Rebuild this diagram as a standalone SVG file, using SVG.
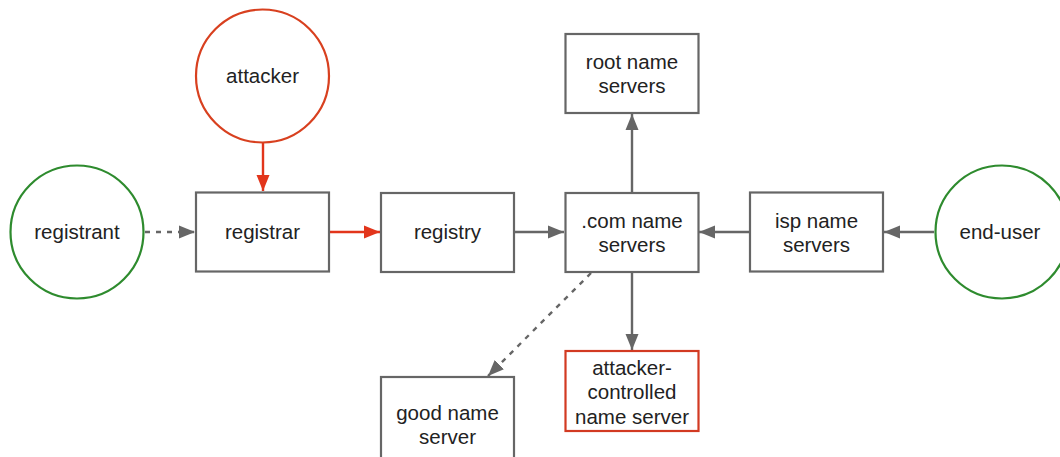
<svg xmlns="http://www.w3.org/2000/svg" width="1060" height="457" viewBox="0 0 1060 457">
  <style>
    .box { fill: #ffffff; stroke: #666666; stroke-width: 2.2; }
    .box-red { fill: #ffffff; stroke: #d23a22; stroke-width: 2.2; }
    .circ-green { fill: #ffffff; stroke: #2e8b2e; stroke-width: 2.2; }
    .circ-red { fill: #ffffff; stroke: #d8401f; stroke-width: 2.2; }
    .label { font-family: "Liberation Sans", Arial, Helvetica, sans-serif; font-size: 20.5px; fill: #222222; text-anchor: middle; }
    .edge { fill: none; stroke: #666666; stroke-width: 2.4; }
    .edge-red { fill: none; stroke: #e2351b; stroke-width: 2.4; }
    .dashed { stroke-dasharray: 5 6; }
  </style>
  <defs>
    <marker id="arrow" markerUnits="userSpaceOnUse" markerWidth="17" markerHeight="14" refX="16" refY="7" orient="auto">
      <path d="M0,0.5 L16,7 L0,13.5 z" fill="#666666"/>
    </marker>
    <marker id="arrow-red" markerUnits="userSpaceOnUse" markerWidth="17" markerHeight="14" refX="16" refY="7" orient="auto">
      <path d="M0,0.5 L16,7 L0,13.5 z" fill="#e2351b"/>
    </marker>
  </defs>

  <rect width="1060" height="457" fill="#ffffff"/>

  <!-- connectors -->
  <g id="connectors">
    <line class="edge dashed" x1="145" y1="232" x2="195" y2="232" marker-end="url(#arrow)"/>
    <line class="edge-red" x1="263" y1="143" x2="263" y2="191" marker-end="url(#arrow-red)"/>
    <line class="edge-red" x1="330" y1="232" x2="380" y2="232" marker-end="url(#arrow-red)"/>
    <line class="edge" x1="515" y1="232" x2="564" y2="232" marker-end="url(#arrow)"/>
    <line class="edge" x1="749" y1="232" x2="699" y2="232" marker-end="url(#arrow)"/>
    <line class="edge" x1="934" y1="232" x2="884" y2="232" marker-end="url(#arrow)"/>
    <line class="edge" x1="632" y1="192" x2="632" y2="114" marker-end="url(#arrow)"/>
    <line class="edge" x1="632" y1="273" x2="632" y2="350" marker-end="url(#arrow)"/>
    <line class="edge dashed" x1="591" y1="273" x2="488" y2="376" marker-end="url(#arrow)"/>
  </g>

  <!-- nodes -->
  <g id="attacker">
    <circle class="circ-red" cx="262.5" cy="76" r="66.5"/>
    <text class="label" x="262.5" y="83">attacker</text>
  </g>
  <g id="registrant">
    <circle class="circ-green" cx="77" cy="232" r="66.5"/>
    <text class="label" x="77" y="239">registrant</text>
  </g>
  <g id="registrar">
    <rect class="box" x="196" y="192.5" width="133" height="79"/>
    <text class="label" x="262.5" y="239">registrar</text>
  </g>
  <g id="registry">
    <rect class="box" x="381" y="193" width="133" height="79"/>
    <text class="label" x="447.5" y="239">registry</text>
  </g>
  <g id="com-name-servers">
    <rect class="box" x="565.5" y="193" width="133" height="79"/>
    <text class="label" x="632" y="228">.com name</text>
    <text class="label" x="632" y="252">servers</text>
  </g>
  <g id="root-name-servers">
    <rect class="box" x="565.5" y="34" width="133" height="79"/>
    <text class="label" x="632" y="69">root name</text>
    <text class="label" x="632" y="93">servers</text>
  </g>
  <g id="isp-name-servers">
    <rect class="box" x="750" y="192.5" width="133" height="79"/>
    <text class="label" x="816.5" y="228">isp name</text>
    <text class="label" x="816.5" y="252">servers</text>
  </g>
  <g id="end-user">
    <circle class="circ-green" cx="1002" cy="232" r="66.5"/>
    <text class="label" x="1000" y="239">end-user</text>
  </g>
  <g id="attacker-controlled-name-server">
    <rect class="box-red" x="565.5" y="351" width="133" height="80"/>
    <text class="label" x="632" y="375">attacker-</text>
    <text class="label" x="632" y="399">controlled</text>
    <text class="label" x="632" y="424">name server</text>
  </g>
  <g id="good-name-server">
    <rect class="box" x="381" y="377" width="133" height="82"/>
    <text class="label" x="447.5" y="420">good name</text>
    <text class="label" x="447.5" y="444">server</text>
  </g>
</svg>
